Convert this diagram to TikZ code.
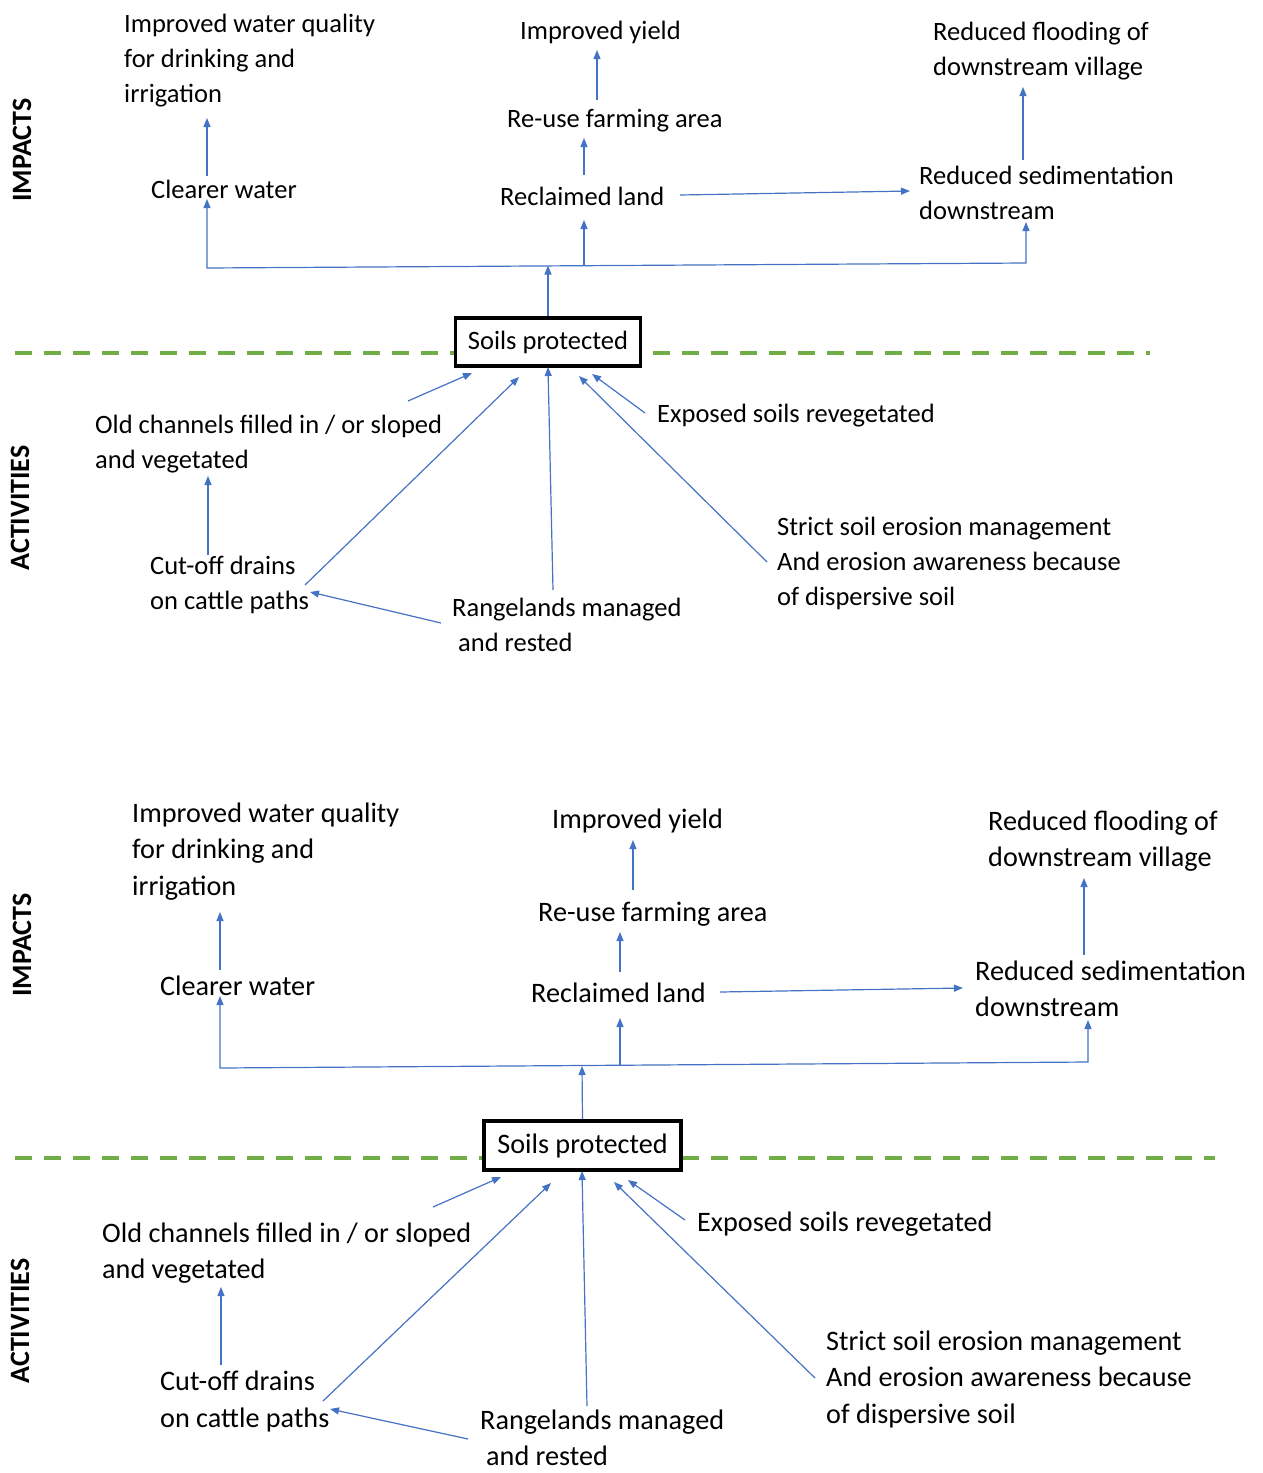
\documentclass[tikz,border=0pt]{standalone}
\usepackage{fontspec}
\setmainfont{Carlito}
\usetikzlibrary{arrows.meta}
\definecolor{linkblue}{HTML}{4472C4}
\definecolor{divgreen}{HTML}{70AD47}
\begin{document}
\begin{tikzpicture}[x=1pt,y=-1pt,
  link/.style={draw=linkblue, line width=1.2pt, -{Triangle[length=9pt,width=7pt]}},
  biarrow/.style={draw=linkblue, line width=1.2pt, {Triangle[length=9pt,width=7pt]}-{Triangle[length=9pt,width=7pt]}},
  lblA/.style={font=\fontsize{26.5}{35}\selectfont, align=left, inner sep=0pt, anchor=west},
  lblB/.style={font=\fontsize{28.2}{36.5}\selectfont, align=left, inner sep=0pt, anchor=west},
  keyboxA/.style={draw=black, line width=3.8pt, fill=white, minimum width=185pt, minimum height=48pt, inner sep=0pt, font=\fontsize{26.5}{32}\selectfont},
  keyboxB/.style={draw=black, line width=3.8pt, fill=white, minimum width=197pt, minimum height=49pt, inner sep=0pt, font=\fontsize{28.2}{34}\selectfont},
  side/.style={rotate=90, inner sep=0pt, font=\fontsize{28}{32}\selectfont\bfseries},
  divider/.style={draw=divgreen, line width=3.5pt, dash pattern=on 17pt off 12pt}]
\useasboundingbox (0,0) rectangle (1263,1473);

% ================= upper chart =================
\node[side] (impA) at (22,150) {IMPACTS};
\node[side] (actA) at (20,508) {ACTIVITIES};
\draw[divider] (15,353) -- (1150,353);

\node[lblA] (iwqA) at (124,61) {Improved water quality\\for drinking and\\irrigation};
\node[lblA] (cwA)  at (151,189) {Clearer water};
\node[lblA] (iyA)  at (520,32) {Improved yield};
\node[lblA] (ruA)  at (507,121) {Re-use farming area};
\node[lblA] (rlA)  at (500,196) {Reclaimed land};
\node[lblA] (rfA)  at (933,51.5) {Reduced flooding of\\downstream village};
\node[lblA] (rsA)  at (919,192.5) {Reduced sedimentation\\downstream};
\node[keyboxA] (spA) at (548,342) {Soils protected};
\node[lblA] (ocA)  at (95,444.5) {Old channels filled in / or sloped\\and vegetated};
\node[lblA] (esA)  at (657,416) {Exposed soils revegetated};
\node[lblA] (cdA)  at (150,585) {Cut-off drains\\on cattle paths};
\node[lblA] (rmA)  at (452,625) {Rangelands managed\\\hspace{6pt}and rested};
\node[lblA] (ssA)  at (777,563.5) {Strict soil erosion management\\And erosion awareness because\\of dispersive soil};

% distribution bus above the key box
\coordinate (busLA) at (207,268);
\coordinate (busRA) at (1026,263);
\coordinate (busMA) at (548,265.5);
\coordinate (busRLA) at (584,265);
\draw[biarrow] (207,199) -- (busLA) -- (busRA) -- (1026,222);
\draw[link] (spA.north) -- (busMA);
\draw[link] (busRLA) -- (584,220);
\draw[link] (207,176) -- (207,118);
\draw[link] (584,175) -- (584,138);
\draw[link] (597,100) -- (597,50);
\draw[link] (680,195) -- (910,191);
\draw[link] (1023,160) -- (1023,87);

% activities feeding the key box
\draw[link] (645,413) -- (592,374);
\draw[link] (408,401) -- (472,373);
\draw[link] (208,555) -- (208,476);
\draw[link] (305,585) -- (519,377);
\draw[link] (553,590) -- (548,367);
\draw[link] (441,623) -- (310,592);
\draw[link] (767,562) -- (579,376);

% ================= lower chart =================
\node[side] (impB) at (22,945) {IMPACTS};
\node[side] (actB) at (20,1321) {ACTIVITIES};
\draw[divider] (15,1158) -- (1215,1158);

\node[lblB] (iwqB) at (132,851.5) {Improved water quality\\for drinking and\\irrigation};
\node[lblB] (cwB)  at (160,985.5) {Clearer water};
\node[lblB] (iyB)  at (552,821) {Improved yield};
\node[lblB] (ruB)  at (538,914) {Re-use farming area};
\node[lblB] (rlB)  at (531,993) {Reclaimed land};
\node[lblB] (rfB)  at (988,841) {Reduced flooding of\\downstream village};
\node[lblB] (rsB)  at (975,989) {Reduced sedimentation\\downstream};
\node[keyboxB] (spB) at (582.5,1145.5) {Soils protected};
\node[lblB] (ocB)  at (102,1253) {Old channels filled in / or sloped\\and vegetated};
\node[lblB] (esB)  at (697,1224) {Exposed soils revegetated};
\node[lblB] (cdB)  at (160,1401.5) {Cut-off drains\\on cattle paths};
\node[lblB] (rmB)  at (480,1438) {Rangelands managed\\\hspace{6pt}and rested};
\node[lblB] (ssB)  at (826,1379) {Strict soil erosion management\\And erosion awareness because\\of dispersive soil};

\coordinate (busLB) at (220,1068);
\coordinate (busRB) at (1088,1062);
\coordinate (busMB) at (582,1066);
\coordinate (busRLB) at (620,1066);
\draw[biarrow] (220,996) -- (busLB) -- (busRB) -- (1088,1020);
\draw[link] (spB.north) -- (busMB);
\draw[link] (busRLB) -- (620,1018);
\draw[link] (220,970) -- (220,912);
\draw[link] (620,972) -- (620,932);
\draw[link] (633,890) -- (633,840);
\draw[link] (720,992) -- (963,988);
\draw[link] (1084,955) -- (1084,878);

\draw[link] (685,1220) -- (628,1180);
\draw[link] (433,1207) -- (501,1177);
\draw[link] (221,1365) -- (221,1287);
\draw[link] (323,1401) -- (551,1183);
\draw[link] (587,1406) -- (582,1171);
\draw[link] (468,1439) -- (330,1409);
\draw[link] (815,1378) -- (614,1182);
\end{tikzpicture}
\end{document}
